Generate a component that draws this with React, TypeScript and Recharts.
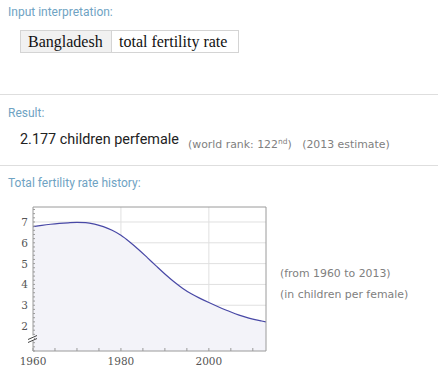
import React from "react";
import {
  AreaChart,
  Area,
  XAxis,
  YAxis,
  CartesianGrid,
} from "recharts";

// Bangladesh total fertility rate (children per female)
const years = [
  1960, 1962, 1964, 1966, 1968, 1970, 1972, 1974, 1976, 1978, 1980, 1982, 1984,
  1986, 1988, 1990, 1992, 1994, 1996, 1998, 2000, 2002, 2004, 2006, 2008, 2010,
  2012, 2013,
];
const tfr = [
  6.78, 6.84, 6.89, 6.93, 6.96, 6.98, 6.97, 6.9, 6.78, 6.6, 6.36, 6.04, 5.68,
  5.29, 4.89, 4.5, 4.14, 3.82, 3.55, 3.33, 3.13, 2.94, 2.76, 2.59, 2.45, 2.33,
  2.24, 2.2,
];

const xTicks = [1960, 1965, 1970, 1975, 1980, 1985, 1990, 1995, 2000, 2005, 2010];
const xLabels = [1960, 1980, 2000];
const yLabels = [2, 3, 4, 5, 6, 7];
const yGrid = [1, 2, 3, 4, 5, 6, 7];
const yMinor = Array.from({ length: 35 }, (_, i) => +(0.8 + i * 0.2).toFixed(1));

const data = years.map((year, i) => ({ year, tfr: tfr[i] }));

const frame = "#9a9a9a";
const tickFont = { fontFamily: "'DejaVu Serif', serif", fontSize: 10.5, fill: "#555" };

const XTick = (props: any) => {
  const { x, y, payload } = props;
  if (!xLabels.includes(payload.value)) return null;
  return (
    <text x={x} y={y + 8} textAnchor="middle" {...tickFont}>
      {payload.value}
    </text>
  );
};

const YTick = (props: any) => {
  const { x, y, payload } = props;
  const v = payload.value;
  if (Math.abs(v - 1.4) < 0.01) {
    // axis break marker
    const ax = x + 5;
    return (
      <g>
        <rect x={ax - 1} y={y - 3} width={2} height={5} fill="#fff" />
        <line x1={ax - 5} y1={y + 1} x2={ax + 4} y2={y - 3} stroke="#444" strokeWidth={1} />
        <line x1={ax - 5} y1={y + 4} x2={ax + 4} y2={y} stroke="#444" strokeWidth={1} />
      </g>
    );
  }
  if (!yLabels.some((l) => Math.abs(l - v) < 0.01)) return null;
  return (
    <text x={x} y={y + 4} textAnchor="end" {...tickFont}>
      {Math.round(v)}
    </text>
  );
};

const header: React.CSSProperties = {
  position: "absolute",
  left: 8,
  fontFamily: "Roboto, sans-serif",
  fontSize: 12,
  color: "#6fa3c3",
  lineHeight: "14px",
  whiteSpace: "nowrap",
};

const note: React.CSSProperties = {
  position: "absolute",
  fontFamily: "'DejaVu Sans', sans-serif",
  fontSize: 10.9,
  color: "#808080",
  lineHeight: "12px",
  whiteSpace: "nowrap",
};

const cell: React.CSSProperties = {
  position: "absolute",
  top: 30,
  height: 23,
  boxSizing: "border-box",
  border: "1px solid #d4d4d4",
  fontFamily: "'Liberation Serif', serif",
  fontSize: 16,
  lineHeight: "21px",
  color: "#111",
  paddingLeft: 7,
  whiteSpace: "nowrap",
};

export default function App() {
  return (
    <div
      style={{
        position: "absolute",
        left: 0,
        top: 0,
        width: 438,
        height: 378,
        background: "#fff",
        overflow: "hidden",
      }}
    >
      <div style={{ ...header, top: 5 }}>Input interpretation:</div>
      <div style={{ ...cell, left: 20, width: 92, background: "#f1f1f1" }}>Bangladesh</div>
      <div style={{ ...cell, left: 111, width: 128, background: "#fff" }}>total fertility rate</div>

      <div style={{ position: "absolute", left: 0, top: 94, width: 438, height: 1, background: "#dedede" }} />

      <div style={{ ...header, top: 106 }}>Result:</div>
      <div
        style={{
          position: "absolute",
          left: 20,
          top: 131,
          fontFamily: "Roboto, sans-serif",
          fontSize: 14.4,
          lineHeight: "18px",
          color: "#222",
          whiteSpace: "nowrap",
        }}
      >
        2.177 children perfemale
      </div>
      <div style={{ ...note, left: 188, top: 136 }}>
        (world rank: 122<sup style={{ fontSize: 7.5, verticalAlign: "4px" }}>nd</sup>)&nbsp;&nbsp;&nbsp;(2013 estimate)
      </div>

      <div style={{ position: "absolute", left: 0, top: 165, width: 438, height: 1, background: "#dedede" }} />

      <div style={{ ...header, top: 176 }}>Total fertility rate history:</div>

      <div style={{ position: "absolute", left: 0, top: 190 }}>
        <AreaChart
          width={280}
          height={188}
          data={data}
          margin={{ top: 15, right: 10, bottom: 7, left: 8 }}
        >
          <CartesianGrid
            xAxisId="b"
            yAxisId="l"
            stroke="#e0e0e0"
            horizontalValues={yGrid}
            verticalValues={[1980, 2000]}
          />
          <XAxis
            xAxisId="b"
            dataKey="year"
            type="number"
            domain={[1960, 2013]}
            ticks={xTicks}
            height={20}
            stroke={frame}
            tickSize={-3}
            tickMargin={9}
            tick={<XTick />}
            interval={0}
            allowDataOverflow
          />
          <XAxis
            xAxisId="t"
            orientation="top"
            dataKey="year"
            type="number"
            domain={[1960, 2013]}
            ticks={xTicks}
            height={2}
            stroke={frame}
            tickSize={-3}
            tick={false}
            interval={0}
            allowDataOverflow
          />
          <YAxis
            yAxisId="l"
            type="number"
            domain={[0.8, 7.72]}
            ticks={yMinor}
            width={25}
            stroke={frame}
            tickSize={-2}
            tickMargin={7}
            tick={<YTick />}
            interval={0}
            allowDataOverflow
          />
          <YAxis
            yAxisId="r"
            orientation="right"
            type="number"
            domain={[0.8, 7.72]}
            ticks={yMinor}
            width={4}
            stroke={frame}
            tickSize={-2}
            tick={false}
            interval={0}
            allowDataOverflow
          />
          <Area
            xAxisId="b"
            yAxisId="l"
            type="monotone"
            dataKey="tfr"
            stroke="#4848a6"
            strokeWidth={1.2}
            fill="#f3f3f9"
            fillOpacity={1}
            isAnimationActive={false}
            dot={false}
            activeDot={false}
          />
        </AreaChart>
      </div>

      <div style={{ ...note, left: 280, top: 268 }}>(from 1960 to 2013)</div>
      <div style={{ ...note, left: 280, top: 289 }}>(in children per female)</div>
    </div>
  );
}
